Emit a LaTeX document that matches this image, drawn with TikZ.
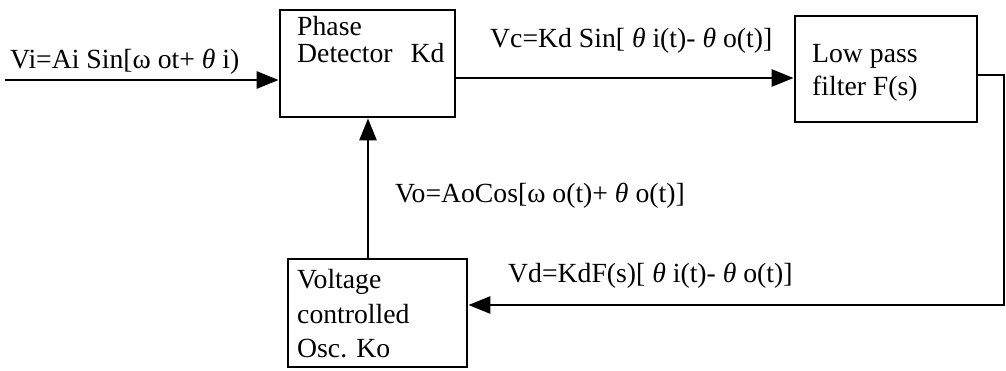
\documentclass[tikz,border=0pt]{standalone}
\usepackage{fontspec}
\setmainfont{Liberation Serif}
\usetikzlibrary{arrows.meta}
\newcommand{\thet}{\textit{θ}}
\begin{document}
\begin{tikzpicture}[x=1pt,y=-1pt,
  box/.style={draw, line width=2.8pt, inner sep=0pt},
  lbl/.style={anchor=base west, inner sep=0pt, font=\fontsize{27.7}{33}\selectfont},
  arr/.style={line width=2.8pt, -{Triangle[length=22pt,width=17pt]}}]
\useasboundingbox (0,0) rectangle (1006,370);
% boxes
\node[box, minimum width=175pt, minimum height=107pt] (pd) at (367.5,63.5) {};
\node[box, minimum width=182pt, minimum height=106pt] (lpf) at (886,69) {};
\node[box, minimum width=179pt, minimum height=108pt] (vco) at (377.5,313) {};
% box texts
\node[lbl] (pd1) at (297,35) {Phase};
\node[lbl] (pd2) at (297,62) {Detector\hspace{18pt}Kd};
\node[lbl] (lp1) at (812,62) {Low pass};
\node[lbl] (lp2) at (812,95) {filter F(s)};
\node[lbl] (vc1) at (297,288) {Voltage};
\node[lbl] (vc2) at (297,323) {controlled};
\node[lbl] (vc3) at (297,357) {Osc. Ko};
% signal labels
\node[lbl] (vi) at (10,68) {Vi=Ai Sin[ω ot+ \thet\ i)};
\node[lbl] (vc) at (490,47) {Vc=Kd Sin[ \thet\ i(t)- \thet\ o(t)]};
\node[lbl] (vo) at (395,202) {Vo=AoCos[ω o(t)+ \thet\ o(t)]};
\node[lbl] (vd) at (508,282) {Vd=KdF(s)[ \thet\ i(t)- \thet\ o(t)]};
% connectors
\coordinate (in) at (5,80);
\coordinate (vcy) at (0,78);
\coordinate (c1) at (1004,75);
\coordinate (c2) at (1004,305);
\draw[arr] (in) -- (in -| pd.west);
\draw[arr] (pd.east |- vcy) -- (lpf.west |- vcy);
\draw[arr, line join=miter] (lpf.east |- c1) -- (c1) -- (c2) -- (c2 -| vco.east);
\draw[arr] ([xshift=-9.5pt]vco.north) -- ([xshift=-9.5pt]vco.north |- pd.south);
\end{tikzpicture}
\end{document}
